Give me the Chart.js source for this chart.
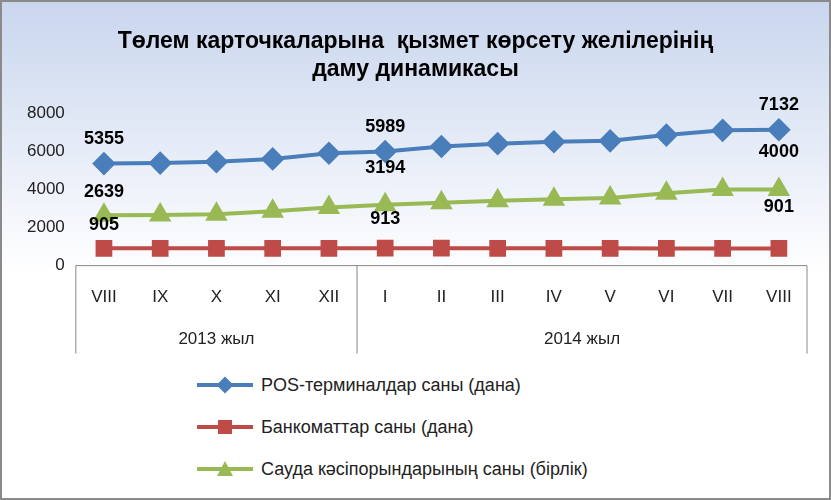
<!DOCTYPE html>
<html><head><meta charset="utf-8">
<script src="https://cdn.jsdelivr.net/npm/chart.js@4/dist/chart.umd.min.js"></script>
<style>
body{margin:0;}
#wrap{position:relative;width:827px;height:496px;border:2px solid #8a8a8a;background:linear-gradient(#c9d6ee,#ffffff 55%,#ffffff);font-family:"Liberation Sans",Arial,sans-serif;}
#c{position:absolute;left:0;top:0;}
#leg{position:absolute;left:195px;top:362px;font-size:18px;color:#222;}
#leg div{height:42px;display:flex;align-items:center;}
#leg svg{margin-right:8px;}
</style></head><body>
<div id="wrap"><canvas id="c" width="827" height="360"></canvas>
<div id="leg"></div></div>
<script>
const months = ["VIII","IX","X","XI","XII","I","II","III","IV","V","VI","VII","VIII"];
const years = [["2013 жыл",0,4],["2014 жыл",5,12]];
const posTerminals = [5355,5380,5450,5600,5900,5989,6250,6400,6500,6550,6850,7100,7132];
const atms = [905,905,905,905,905,913,913,910,905,910,900,900,901];
const shops = [2639,2650,2700,2850,3050,3194,3300,3400,3480,3550,3800,4000,4000];
const labelIdx = [0,5,12];
// label offsets above the point, per series, for indices 0,5,12
const labelDy = [[-20,-20,-20],[-18,-24,-36],[-18,-32,-32]];
const names = ["POS-терминалдар саны (дана)","Банкоматтар саны (дана)","Сауда кәсіпорындарының саны (бірлік)"];
const colors = ["#4a7ebb","#be4b48","#98b954"];
const shapes = ["rectRot","rect","triangle"];

const yearAxis = {
  id: "yearAxis",
  afterDraw(chart) {
    const ctx = chart.ctx, x = chart.scales.x, a = chart.chartArea;
    const top = a.bottom, bot = a.bottom + 88;
    const half = (x.getPixelForValue(1) - x.getPixelForValue(0)) / 2;
    ctx.save();
    ctx.strokeStyle = "#888"; ctx.lineWidth = 1;
    ctx.beginPath();
    ctx.moveTo(a.left, top); ctx.lineTo(a.right, top); ctx.stroke();
    [a.left, x.getPixelForValue(4) + half, a.right].forEach(b => {
      ctx.beginPath(); ctx.moveTo(b, top); ctx.lineTo(b, bot); ctx.stroke();
    });
    ctx.fillStyle = "#222"; ctx.font = "17px 'Liberation Sans'"; ctx.textAlign = "center";
    years.forEach(([t, s, e]) => {
      ctx.fillText(t, (x.getPixelForValue(s) + x.getPixelForValue(e)) / 2, top + 78);
    });
    ctx.font = "bold 18px 'Liberation Sans'"; ctx.fillStyle = "#000";
    chart.data.datasets.forEach((ds, d) => {
      const meta = chart.getDatasetMeta(d);
      labelIdx.forEach((i, k) => {
        const p = meta.data[i];
        ctx.fillText(ds.data[i], p.x, p.y + labelDy[d][k]);
      });
    });
    ctx.restore();
  }
};

new Chart(document.getElementById("c"), {
  type: "line",
  data: {
    labels: months,
    datasets: [posTerminals, atms, shops].map((d, i) => ({
      label: names[i], data: d, borderColor: colors[i], backgroundColor: colors[i],
      borderWidth: 4, pointStyle: shapes[i], pointRadius: 9, pointHoverRadius: 9
    }))
  },
  options: {
    responsive: false, animation: false,
    layout: { padding: { left: 22, right: 22, bottom: 40 } },
    plugins: {
      legend: { display: false },
      title: { display: true, text: ["Төлем карточкаларына  қызмет көрсету желілерінің", "даму динамикасы"],
        font: { size: 23, weight: "bold", family: "Liberation Sans" }, color: "#000", padding: { top: 26, bottom: 30 } }
    },
    scales: {
      x: { offset: true, grid: { display: false }, border: { display: false },
        ticks: { color: "#222", font: { size: 17 }, padding: 14 } },
      y: { min: 0, max: 8000, ticks: { stepSize: 2000, color: "#222", font: { size: 17 }, callback: v => String(v) },
        grid: { display: false }, border: { display: false } }
    }
  },
  plugins: [yearAxis]
});

const svgs = [
  c => `<rect x="22" y="4" width="12" height="12" fill="${c}" transform="rotate(45 28 10)"/>`,
  c => `<rect x="21" y="3" width="14" height="14" fill="${c}"/>`,
  c => `<polygon points="28,2 36,17 20,17" fill="${c}"/>`
];
document.getElementById("leg").innerHTML = names.map((n, i) =>
  `<div><svg width="56" height="20"><line x1="0" y1="10" x2="56" y2="10" stroke="${colors[i]}" stroke-width="4"/>${svgs[i](colors[i])}</svg>${n}</div>`).join("");
</script>
</body></html>
